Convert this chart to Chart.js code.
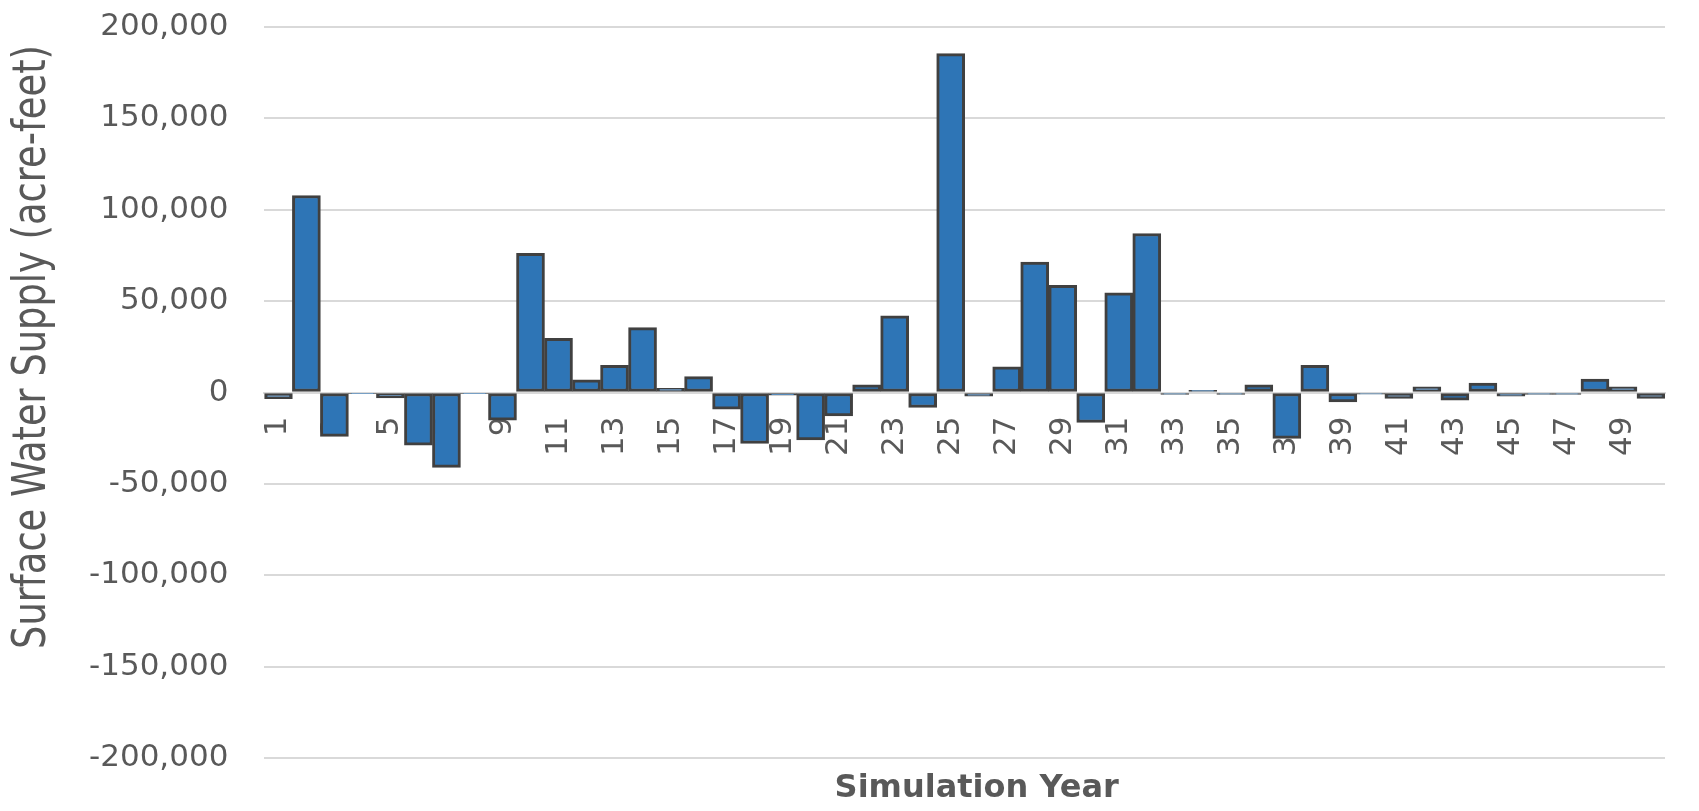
<!DOCTYPE html>
<html>
<head>
<meta charset="utf-8">
<script src="https://cdn.jsdelivr.net/npm/chart.js@4/dist/chart.umd.min.js"></script>
<style>
  html, body { margin: 0; padding: 0; background: #fff; }
  #wrap { width: 1699px; height: 811px; position: relative; }
</style>
</head>
<body>
<div id="wrap"><canvas id="chartForSupply"></canvas></div>
<script>
// simulation years 1..50
var years = [
  '1', '2', '3', '4', '5', '6', '7', '8', '9', '10',
  '11', '12', '13', '14', '15', '16', '17', '18', '19', '20',
  '21', '22', '23', '24', '25', '26', '27', '28', '29', '30',
  '31', '32', '33', '34', '35', '36', '37', '38', '39', '40',
  '41', '42', '43', '44', '45', '46', '47', '48', '49', '50'
];

// surface water supply change, acre-feet
var supply = [
  -3400, 107800, -24000, -600, -3000, -28800, -41000, -600, -15100, 76100,
  29700, 6900, 14900, 35500, 2300, 8700, -9100, -27900, -1500, -25900,
  -12800, 4200, 41900, -8200, 185400, -2000, 14000, 71400, 58600, -16400,
  54600, 87000, -1000, 1200, -1000, 4200, -25100, 14900, -5100, -900,
  -3300, 3100, -4200, 5100, -2000, -1000, -1000, 7300, 3100, -3300
];

var yTicks = [-200000, -150000, -100000, -50000, 0, 50000, 100000, 150000, 200000];

var yTitle = 'Surface Water Supply (acre-feet)';
var xTitle = 'Simulation Year';

// axis titles drawn by hand: the x axis sits on the zero line,
// so its own title would land in the middle of the chart
var axisTitles = {
  id: 'axisTitles',
  afterDraw: function (chart) {
    var c = chart.ctx;
    var area = chart.chartArea;
    c.save();
    c.fillStyle = '#595959';
    c.textAlign = 'center';
    c.textBaseline = 'middle';

    c.font = 'bold 32px "DejaVu Sans", sans-serif';
    c.fillText(xTitle, (area.left + area.right) / 2 + 12, area.bottom + 31);

    c.translate(33, 347);
    c.rotate(-Math.PI / 2);
    c.scale(0.8, 1);
    c.font = '46px "DejaVu Sans", sans-serif';
    c.fillText(yTitle, 0, 0);
    c.restore();
  },
};

var ctx = document.getElementById('chartForSupply');
var chart = new Chart(ctx, {
  type: 'bar',
  data: {
    labels: years,
    datasets: [
      {
        label: 'Surface Water Supply',
        data: supply,
        backgroundColor: '#2e75b6',
        borderColor: '#404040',
        borderWidth: 3,
        borderSkipped: false,
        barPercentage: 1,
        categoryPercentage: 1,
      },
    ],
  },
  plugins: [axisTitles],
  options: {
    responsive: true,
    maintainAspectRatio: false,
    animation: false,
    layout: {
      padding: { top: 27, right: 34, left: 86, bottom: 53 },
    },
    plugins: {
      legend: { display: false },
      tooltip: { enabled: false },
    },
    scales: {
      x: {
        position: { y: 0 },
        z: 1,
        grid: { display: false, drawTicks: true, tickLength: 22 },
        border: { display: true, color: '#d9d9d9', width: 2 },
        ticks: {
          autoSkip: false,
          minRotation: 90,
          maxRotation: 90,
          padding: 2,
          color: '#595959',
          font: { family: "'DejaVu Sans', sans-serif", size: 31, lineHeight: 1 },
          callback: function (value, index) {
            return index % 2 === 0 ? years[index] : '';
          },
        },
      },
      y: {
        min: -200000,
        max: 200000,
        afterBuildTicks: function (scale) {
          scale.ticks = yTicks.map(function (v) { return { value: v }; });
        },
        grid: {
          color: '#d9d9d9',
          lineWidth: 2,
          drawTicks: true,
          tickLength: 33,
          tickColor: 'rgba(0,0,0,0)',
        },
        border: { display: false },
        ticks: {
          padding: 3,
          color: '#595959',
          font: { family: "'DejaVu Sans', sans-serif", size: 31 },
          callback: function (value) {
            return Number(value).toLocaleString('en-US');
          },
        },
      },
    },
  },
});
</script>
</body>
</html>
